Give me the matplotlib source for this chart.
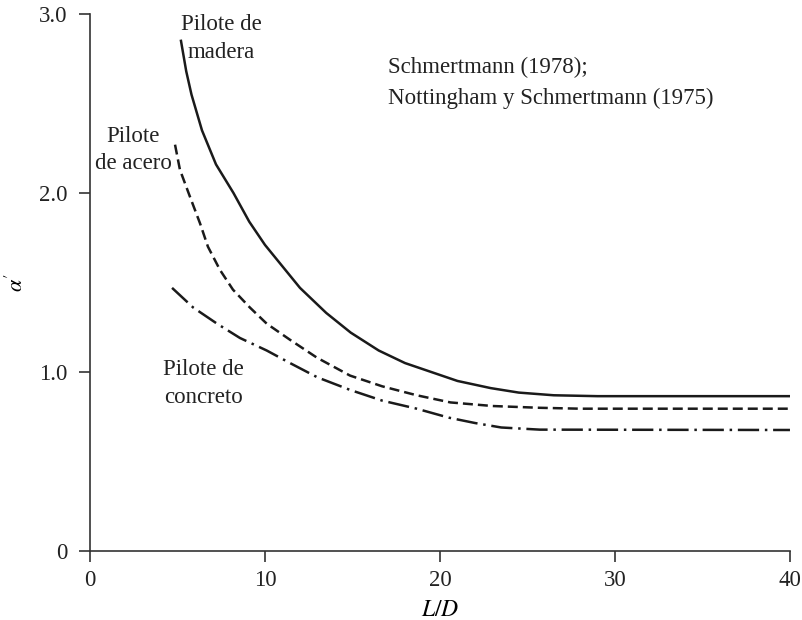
import matplotlib.pyplot as plt

plt.rcParams['font.family'] = ['Liberation Serif', 'DejaVu Serif']
plt.rcParams['mathtext.fontset'] = 'stix'

# curves (L/D, alpha')
ld_madera = [5.2, 5.5, 5.8, 6.4, 7.2, 8.2, 9.1, 10.0, 11.0, 12.0, 13.5, 14.9, 16.5,
             18.0, 19.5, 21.0, 22.9, 24.5, 26.5, 29.0, 40.0]
a_madera = [2.85, 2.68, 2.55, 2.35, 2.16, 2.00, 1.84, 1.71, 1.59, 1.47, 1.33, 1.22, 1.12,
            1.05, 1.00, 0.95, 0.91, 0.885, 0.87, 0.865, 0.865]

ld_acero = [4.86, 5.14, 5.71, 6.29, 6.74, 7.43, 8.17, 9.14, 10.1, 11.43, 12.97, 14.86,
            16.7, 18.67, 20.6, 23.0, 25.7, 28.0, 40.0]
a_acero = [2.27, 2.13, 1.98, 1.83, 1.70, 1.57, 1.46, 1.36, 1.27, 1.18, 1.08, 0.98,
           0.92, 0.87, 0.83, 0.81, 0.80, 0.795, 0.795]

ld_concreto = [4.69, 5.9, 7.26, 8.57, 10.1, 11.43, 13.0, 14.86, 16.7, 18.67, 20.5,
               22.0, 23.5, 25.7, 40.0]
a_concreto = [1.47, 1.36, 1.27, 1.19, 1.12, 1.05, 0.97, 0.90, 0.84, 0.795, 0.745,
              0.715, 0.69, 0.678, 0.676]

xticks = [0, 10, 20, 30, 40]
yticks = [0, 1.0, 2.0, 3.0]
ytick_labels = ["0", "1.0", "2.0", "3.0"]

fig = plt.figure(figsize=(8.02, 6.2), dpi=100)
ax = fig.add_axes([0.1122, 0.1113, 0.8728, 0.8661])

lc = "#1a1a1a"
ax.plot(ld_madera, a_madera, color=lc, lw=1.8)
ax.plot(ld_acero, a_acero, color=lc, lw=1.8, dashes=(4.0, 2.0))
ax.plot(ld_concreto, a_concreto, color=lc, lw=1.8, dashes=(8.5, 2.3, 1.0, 2.3))

ax.set_xlim(0, 40)
ax.set_ylim(0, 3.0)
ax.set_xticks(xticks)
ax.set_yticks(yticks)
ax.set_yticklabels(ytick_labels)

for s in ["top", "right"]:
    ax.spines[s].set_visible(False)
for s in ["left", "bottom"]:
    ax.spines[s].set_color("#333333")
    ax.spines[s].set_linewidth(1.2)
ax.tick_params(direction="out", length=8, width=1.2, color="#333333",
               labelsize=16.5, labelcolor="#222222")
ax.tick_params(axis="x", pad=6)
ax.tick_params(axis="y", pad=8)

ax.set_xlabel("$L/D$", fontsize=17, labelpad=6)
ax.set_ylabel(r"$\alpha'$", fontsize=16, labelpad=8)

tc = "#222222"
fs = 16.5
ax.text(7.51, 2.865, "Pilote de\nmadera", ha="center", va="center", fontsize=fs,
        color=tc, linespacing=1.42)
ax.text(2.46, 2.24, "Pilote\nde acero", ha="center", va="center", fontsize=fs,
        color=tc, linespacing=1.38)
ax.text(6.46, 0.935, "Pilote de\nconcreto", ha="center", va="center", fontsize=fs,
        color=tc, linespacing=1.42)
ax.text(17.03, 2.615, "Schmertmann (1978);\nNottingham y Schmertmann (1975)",
        ha="left", va="center", fontsize=fs, color=tc, linespacing=1.55)

fig.savefig("out.png", dpi=100)
